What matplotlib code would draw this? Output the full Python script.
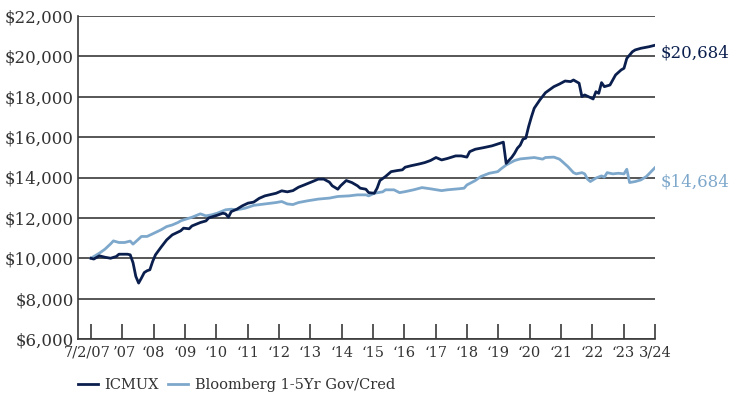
#!/usr/bin/env python
# Growth of $10,000: ICMUX vs Bloomberg 1-5Yr Gov/Cred, 7/2/07 - 3/24.
#   python3 plot.py  -> out.png (732x400)
import matplotlib
matplotlib.use("Agg")
import matplotlib.pyplot as plt
from matplotlib.ticker import FuncFormatter, FixedLocator
from matplotlib.transforms import ScaledTranslation

NAVY = "#0b1f4e"; SKY = "#7ea8cb"; INK = "#333333"; GRID = "#3a3a3a"

# months since 7/2007
ICMUX_M = [0, 1, 3, 5, 7, 9, 10, 13, 14, 15, 16, 17, 18, 19, 20, 21, 22, 23, 25, 27,
           29, 32, 33, 35, 36, 39, 41, 42, 45, 47, 48, 49, 50, 52, 54, 56, 58, 60, 62, 66,
           68, 70, 72, 74, 76, 79, 81, 83, 85, 86, 88, 89, 91, 93, 95, 96, 98, 99, 101, 102,
           103, 105, 107, 109, 111, 112, 114, 117, 119, 121, 123, 125, 127, 130, 132, 134, 135, 137, 140, 143,
           145, 147, 148, 150, 151, 152, 153, 154, 155, 156, 157, 158, 160, 162, 165, 167, 169, 171, 172, 174,
           175, 176, 178, 179, 180, 181, 182, 183, 185, 187, 189, 190, 191, 193, 194, 196, 199, 201]
ICMUX_V = [10000, 9960, 10120, 10050, 10000, 10085, 10200, 10200, 10170, 9780, 9100, 8770, 9020, 9290, 9380, 9430, 9840, 10170, 10550, 10910,
           11160, 11360, 11490, 11460, 11600, 11770, 11850, 12000, 12130, 12230, 12200, 12030, 12310, 12430, 12600, 12730, 12780, 12970, 13090, 13220,
           13340, 13290, 13350, 13520, 13630, 13800, 13920, 13920, 13770, 13590, 13420, 13590, 13850, 13750, 13590, 13470, 13420, 13250, 13220, 13470,
           13850, 14050, 14290, 14340, 14380, 14510, 14580, 14670, 14740, 14840, 14990, 14870, 14940, 15070, 15070, 15010, 15280, 15400, 15480, 15570,
           15660, 15750, 14700, 15000, 15200, 15450, 15600, 15900, 15950, 16520, 17000, 17430, 17840, 18200, 18500, 18630, 18780, 18750, 18830, 18670,
           18010, 18090, 17960, 17890, 18250, 18170, 18700, 18500, 18580, 19080, 19330, 19410, 19900, 20230, 20320, 20400, 20480, 20550]

BBG_M = [0, 3, 5, 7, 8, 10, 12, 14, 15, 17, 18, 20, 22, 25, 27, 29, 31, 32, 33, 36,
         39, 41, 43, 45, 48, 50, 52, 55, 58, 62, 66, 68, 70, 72, 74, 77, 81, 85, 88, 92,
         95, 98, 99, 101, 104, 105, 108, 110, 112, 115, 118, 121, 125, 127, 131, 133, 134, 137, 139, 142,
         145, 146, 148, 151, 153, 158, 161, 162, 165, 167, 168, 170, 172, 173, 175, 176, 177, 178, 180, 182,
         183, 184, 186, 188, 190, 191, 192, 194, 196, 198, 201]
BBG_V = [10000, 10250, 10450, 10710, 10860, 10780, 10780, 10850, 10700, 10950, 11080, 11080, 11210, 11410, 11570, 11650, 11770, 11850, 11900, 12030,
         12200, 12100, 12150, 12230, 12400, 12430, 12400, 12480, 12620, 12690, 12760, 12810, 12690, 12660, 12760, 12840, 12930, 12980, 13060, 13090,
         13140, 13140, 13090, 13220, 13290, 13390, 13390, 13250, 13300, 13390, 13500, 13440, 13350, 13390, 13440, 13470, 13630, 13850, 14050, 14210,
         14290, 14410, 14620, 14840, 14920, 14990, 14910, 14990, 15010, 14910, 14790, 14540, 14240, 14180, 14240, 14180, 13920, 13800, 13970, 14080,
         14020, 14240, 14180, 14210, 14180, 14410, 13750, 13800, 13880, 14050, 14480]

X_LABELS = ["7/2/07", "\u201907", "\u201808", "\u201809", "\u201810", "\u201811", "\u201812",
            "\u201813", "\u201814", "\u201815", "\u201816", "\u201817", "\u201818", "\u201819",
            "\u201820", "\u201821", "\u201822", "\u201823", "3/24"]
END_LABELS = ["$20,684", "$14,684"]
SERIES = ["ICMUX", "Bloomberg 1-5Yr Gov/Cred"]

plt.rcParams["font.family"] = ["DejaVu Serif"]

fig = plt.figure(figsize=(7.32, 4.0), dpi=100)
ax = fig.add_axes([0.1066, 0.1525, 0.788, 0.8075])

ax.plot(BBG_M, BBG_V, color=SKY, lw=2.0, label=SERIES[1], zorder=3)
ax.plot(ICMUX_M, ICMUX_V, color=NAVY, lw=2.0, label=SERIES[0], zorder=4)

ax.set_xlim(-4.6, 201)
ax.set_ylim(6000, 22000)
ax.set_yticks(range(6000, 22001, 2000))
ax.yaxis.set_major_formatter(FuncFormatter(lambda v, p: f"${v:,.0f}"))
ax.grid(axis="y", color=GRID, lw=1.2, zorder=1)
ax.tick_params(axis="y", length=0, pad=3, labelsize=12, labelcolor=INK)

step = 201 / (len(X_LABELS) - 1)
ax.xaxis.set_major_locator(FixedLocator([i * step for i in range(len(X_LABELS))]))
ax.set_xticklabels(X_LABELS)
ax.tick_params(axis="x", direction="in", length=11, width=1.2, color=GRID,
               pad=5, labelsize=10.5, labelcolor=INK)
# first two labels sit shoulder to shoulder; nudge them apart a touch
lbls = ax.get_xticklabels()
lbls[0].set_transform(lbls[0].get_transform() + ScaledTranslation(-3 / 72, 0, fig.dpi_scale_trans))
lbls[1].set_transform(lbls[1].get_transform() + ScaledTranslation(1.5 / 72, 0, fig.dpi_scale_trans))

for s in ("top", "right"):
    ax.spines[s].set_visible(False)
for s in ("left", "bottom"):
    ax.spines[s].set_color(GRID)
    ax.spines[s].set_linewidth(1.2)

ax.text(1.01, ICMUX_V[-1] - 380, END_LABELS[0], transform=ax.get_yaxis_transform(),
        ha="left", va="center", fontsize=12, color=NAVY)
ax.text(1.01, BBG_V[-1] - 680, END_LABELS[1], transform=ax.get_yaxis_transform(),
        ha="left", va="center", fontsize=12, color=SKY)

h, l = ax.get_legend_handles_labels()
fig.legend(h[::-1], l[::-1], loc="lower left", bbox_to_anchor=(0.088, -0.012), ncol=2,
           frameon=False, fontsize=10.5, handlelength=1.4, handletextpad=0.45,
           columnspacing=0.6, labelcolor=INK)

fig.savefig("out.png")
